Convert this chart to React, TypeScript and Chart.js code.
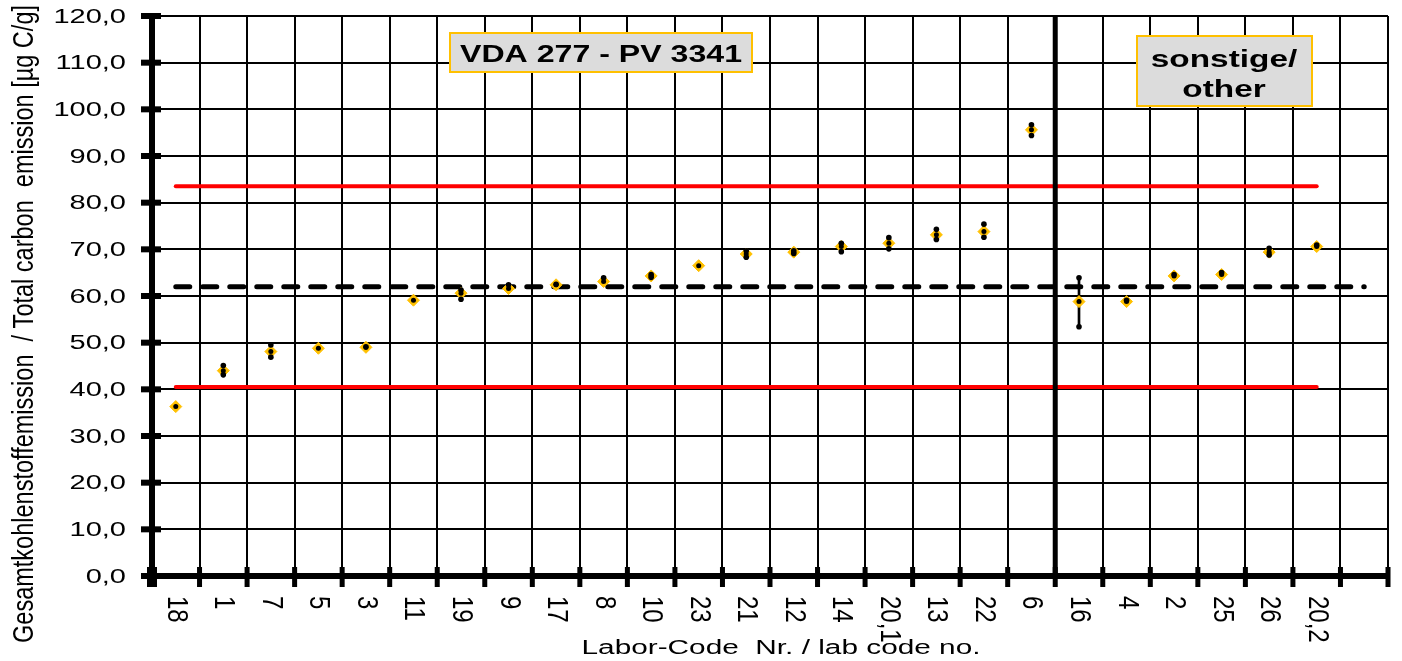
import React, { useEffect, useRef } from 'react';
import { Chart, registerables } from 'chart.js';

Chart.register(...registerables);

// ---------- data ----------
const labCodes = ['18', '1', '7', '5', '3', '11', '19', '9', '17', '8', '10', '23', '21', '12', '14', '20,1', '13', '22', '6', '16', '4', '2', '25', '26', '20,2'];
const categoryLabels = [...labCodes, ''];
const labMeans = [36.3, 44.0, 48.1, 48.8, 49.0, 59.1, 60.6, 61.6, 62.4, 63.1, 64.3, 66.5, 69.0, 69.4, 70.6, 71.3, 73.1, 73.8, 95.6, 58.8, 58.8, 64.3, 64.6, 69.4, 70.6];
const labHigh = [null, 45.1, 49.5, null, 49.1, null, 61.3, 62.4, 62.5, 63.9, 64.6, null, 69.7, 69.7, 71.3, 72.5, 74.3, 75.4, 96.7, 63.9, 59.1, 64.6, 65.0, 70.2, 70.9];
const labLow = [null, 43.1, 46.9, null, null, null, 59.3, null, null, null, 64.0, null, 68.3, 69.1, 69.5, 70.1, 72.1, 72.6, 94.4, 53.4, null, null, null, 68.8, null];
const upperLimit = 83.5;
const lowerLimit = 40.5;
const assignedValue = 62.0;
const yTickValues = [0, 10, 20, 30, 40, 50, 60, 70, 80, 90, 100, 110, 120];
const lastLabOfGroup = '6';
const titleMain = 'VDA 277 - PV 3341';
const titleOther = ['sonstige/', 'other'];
const xTitle = 'Labor-Code  Nr. / lab code no.';
const yTitle = 'Gesamtkohlenstoffemission  / Total carbon  emission [µg C/g]';

// ---------- helpers ----------
const FONT = '"Liberation Sans", Arial, sans-serif';
const GOLD = '#FFC000';

type TextOpts = {
  size: number;
  bold?: boolean;
  sx?: number;
  sy?: number;
  rotate?: number;
  align?: CanvasTextAlign;
  baseline?: CanvasTextBaseline;
};

function drawText(ctx: CanvasRenderingContext2D, text: string, x: number, y: number, o: TextOpts) {
  ctx.save();
  ctx.translate(x, y);
  if (o.rotate) ctx.rotate(o.rotate);
  ctx.scale(o.sx ?? 1, o.sy ?? 1);
  ctx.font = `${o.bold ? 'bold ' : ''}${o.size}px ${FONT}`;
  ctx.textAlign = o.align ?? 'left';
  ctx.textBaseline = o.baseline ?? 'alphabetic';
  ctx.fillStyle = '#000';
  ctx.fillText(text, 0, 0);
  ctx.restore();
}

function measure(ctx: CanvasRenderingContext2D, text: string, size: number, bold = false) {
  ctx.save();
  ctx.font = `${bold ? 'bold ' : ''}${size}px ${FONT}`;
  const w = ctx.measureText(text).width;
  ctx.restore();
  return w;
}

const fmt = (v: number) => v.toFixed(1).replace('.', ',');

const decorPlugin = {
  id: 'decor',
  afterDraw(chart: any) {
    const { ctx, chartArea, scales } = chart;
    const xs = scales.x;
    const ys = scales.y;
    const slot = xs.getPixelForValue(1) - xs.getPixelForValue(0);
    ctx.save();
    ctx.fillStyle = '#000';

    // group separator
    const split = labCodes.indexOf(lastLabOfGroup);
    const xSep = (xs.getPixelForValue(split) + xs.getPixelForValue(split + 1)) / 2;
    ctx.fillRect(xSep - 2.5, chartArea.top, 5, chartArea.bottom - chartArea.top);

    // y ticks + labels
    yTickValues.forEach((v) => {
      const y = ys.getPixelForValue(v);
      ctx.fillStyle = '#000';
      ctx.fillRect(chartArea.left - 11, y - 3, 20, 6);
      drawText(ctx, fmt(v), chartArea.left - 26, y + 1, { size: 20, sx: 1.45, align: 'right', baseline: 'middle' });
    });

    // x ticks
    for (let i = 0; i <= categoryLabels.length; i++) {
      const x = xs.getPixelForValue(0) - slot / 2 + i * slot;
      ctx.fillStyle = '#000';
      ctx.fillRect(x - 2.5, chartArea.bottom - 9, 5, 20);
    }
    ctx.fillRect(chartArea.left - 5, chartArea.bottom - 9, 10, 20);

    // x labels (rotated clockwise)
    labCodes.forEach((code, i) => {
      const x = xs.getPixelForValue(i);
      drawText(ctx, code, x, chartArea.bottom + 20, { size: 20, sx: 1.2, sy: 1.45, rotate: Math.PI / 2, align: 'left', baseline: 'middle' });
    });

    // axis titles
    const xtw = measure(ctx, xTitle, 20);
    drawText(ctx, xTitle, (chartArea.left + chartArea.right) / 2 + 11, 654, { size: 20, sx: 399 / xtw, align: 'center' });
    const ytw = measure(ctx, yTitle, 20);
    drawText(ctx, yTitle, 33, 643, { size: 20, sx: 638 / ytw, sy: 1.5, rotate: -Math.PI / 2, align: 'left' });

    // annotation boxes
    const box = (x: number, y: number, w: number, h: number) => {
      ctx.fillStyle = '#DCDCDC';
      ctx.fillRect(x, y, w, h);
      ctx.strokeStyle = GOLD;
      ctx.lineWidth = 2;
      ctx.strokeRect(x, y, w, h);
    };
    box(450, 33, 302, 39);
    const tw = measure(ctx, titleMain, 23, true);
    drawText(ctx, titleMain, 601, 62, { size: 23, bold: true, sx: 282 / tw, align: 'center' });

    box(1137, 36, 175, 70);
    drawText(ctx, titleOther[0], 1224, 67, { size: 23, bold: true, sx: 1.45, align: 'center' });
    drawText(ctx, titleOther[1], 1224, 97, { size: 23, bold: true, sx: 1.45, align: 'center' });

    ctx.restore();
  },
};

export default function App() {
  const ref = useRef<HTMLCanvasElement | null>(null);

  useEffect(() => {
    if (!ref.current) return;
    const ranges = labCodes.map((_, i) =>
      labHigh[i] != null && labLow[i] != null ? [labLow[i] as number, labHigh[i] as number] : null
    );
    const meanLine = categoryLabels.map(() => assignedValue);
    const upperLine = labCodes.map(() => upperLimit);
    const lowerLine = labCodes.map(() => lowerLimit);

    const chart = new Chart(ref.current, {
      type: 'bar',
      data: {
        labels: categoryLabels,
        datasets: [
          { type: 'line', data: labMeans, showLine: false, pointStyle: 'circle', pointRadius: 2.5, pointBackgroundColor: '#000', pointBorderWidth: 0, order: 0 } as any,
          { type: 'line', data: labHigh, showLine: false, pointStyle: 'circle', pointRadius: 2.8, pointBackgroundColor: '#000', pointBorderWidth: 0, order: 1 } as any,
          { type: 'line', data: labLow, showLine: false, pointStyle: 'circle', pointRadius: 2.8, pointBackgroundColor: '#000', pointBorderWidth: 0, order: 1 } as any,
          { type: 'line', data: labMeans, showLine: false, pointStyle: 'rectRot', pointRadius: 6, pointBackgroundColor: GOLD, pointBorderColor: GOLD, pointBorderWidth: 1, order: 2 } as any,
          { type: 'bar', data: ranges, backgroundColor: '#000', barThickness: 2, order: 3 } as any,
          { type: 'line', data: meanLine, borderColor: '#000', borderWidth: 5, borderDash: [14, 13], borderCapStyle: 'round', pointRadius: 0, order: 4 } as any,
          { type: 'line', data: upperLine, borderColor: '#FF0000', borderWidth: 4, borderCapStyle: 'round', pointRadius: 0, order: 5 } as any,
          { type: 'line', data: lowerLine, borderColor: '#FF0000', borderWidth: 4, borderCapStyle: 'round', pointRadius: 0, order: 5 } as any,
        ],
      },
      options: {
        responsive: false,
        animation: false,
        devicePixelRatio: 1,
        events: [],
        layout: { padding: { top: 16, right: 14, left: 0, bottom: 0 } },
        plugins: { legend: { display: false }, tooltip: { enabled: false } },
        scales: {
          x: {
            type: 'category',
            offset: true,
            grid: { offset: true, color: '#000', lineWidth: 2, drawTicks: false },
            border: { display: true, color: '#000', width: 6 },
            ticks: { display: false },
            afterFit: (s: any) => { s.height = 85; },
          },
          y: {
            min: 0,
            max: 120,
            ticks: { display: false, stepSize: 10 },
            grid: { color: '#000', lineWidth: 2, drawTicks: false },
            border: { display: true, color: '#000', width: 6 },
            afterFit: (s: any) => { s.width = 152; },
          },
        },
      } as any,
      plugins: [decorPlugin],
    });
    return () => chart.destroy();
  }, []);

  return (
    <div style={{ position: 'fixed', left: 0, top: 0, width: 1402, height: 661, background: '#fff' }}>
      <canvas ref={ref} width={1402} height={661} style={{ display: 'block' }} />
    </div>
  );
}
